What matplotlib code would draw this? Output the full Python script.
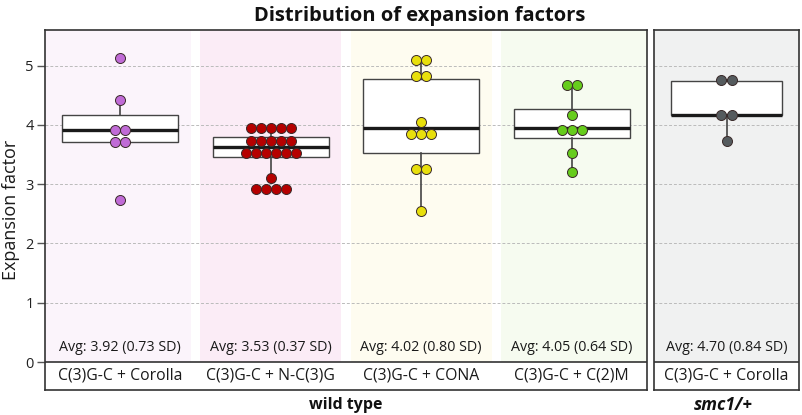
import matplotlib
matplotlib.use('Agg')
import matplotlib.pyplot as plt
import numpy as np

plt.rcParams['font.family'] = ['Open Sans', 'DejaVu Sans']

## ---------------------------- DATA ------------------------------------------
wt_labels = ['C(3)G-C + Corolla', 'C(3)G-C + N-C(3)G', 'C(3)G-C + CONA', 'C(3)G-C + C(2)M']
mut_labels = ['C(3)G-C + Corolla']

wt_values = [
    [5.13, 4.42, 3.92, 3.92, 3.71, 3.71, 2.73],
    [3.94] * 5 + [3.72] * 5 + [3.53] * 6 + [3.11] + [2.91] * 4,
    [5.10, 5.10, 4.82, 4.82, 4.05, 3.84, 3.84, 3.84, 3.25, 3.25, 2.55],
    [4.67, 4.67, 4.17, 3.92, 3.92, 3.92, 3.52, 3.21],
]
mut_values = [[4.75, 4.75, 4.17, 4.17, 3.73]]

# box statistics: q1, median, q3, whisker low, whisker high
wt_q1 = [3.71, 3.45, 3.53, 3.77]
wt_med = [3.92, 3.63, 3.95, 3.95]
wt_q3 = [4.17, 3.79, 4.78, 4.27]
wt_wlo = [3.71, 3.11, 2.55, 3.21]
wt_whi = [4.42, 3.94, 5.10, 4.67]
mut_q1 = [4.17]
mut_med = [4.17]
mut_q3 = [4.74]
mut_wlo = [3.73]
mut_whi = [4.75]

wt_avg = ['Avg: 3.92 (0.73 SD)', 'Avg: 3.53 (0.37 SD)', 'Avg: 4.02 (0.80 SD)', 'Avg: 4.05 (0.64 SD)']
mut_avg = ['Avg: 4.70 (0.84 SD)']

wt_colors = ['#c06bd6', '#b50000', '#e8df0c', '#66cc1c']
wt_bg = ['#fbf4fb', '#fbecf6', '#fefcf0', '#f6fbf0']
mut_colors = ['#555b5e']
mut_bg = ['#f0f1f1']

## ---------------------------- HELPERS ---------------------------------------
frame_col = '#333333'
ytop = 5.6
ybot = -0.472


def swarm_x(vals, center, step):
    # tied values are put side by side, centred on the group
    vals = np.array(vals)
    out = np.zeros(len(vals))
    for v in np.unique(vals):
        idx = np.where(vals == v)[0]
        n = len(idx)
        for j, i in enumerate(idx):
            out[i] = center + (j - (n - 1) / 2) * step
    return out


def draw_panel(ax, labels, values, q1, med, q3, wlo, whi, avg, colors, bg, step):
    n = len(labels)
    ax.set_xlim(-0.5, n - 0.5)
    ax.set_ylim(ybot, ytop)
    for i in range(n):
        lo = i - 0.47 if i > 0 else -0.5
        hi = i + 0.47 if i < n - 1 else n - 0.5
        ax.fill_between([lo, hi], 0, ytop, color=bg[i], lw=0, zorder=0)
    for y in range(1, 6):
        ax.axhline(y, color='#bbbbbb', lw=0.7, ls=(0, (3, 2)), zorder=1)
    ax.axhline(0, color=frame_col, lw=1.2, zorder=3)

    stats = []
    for i in range(n):
        stats.append(dict(q1=q1[i], med=med[i], q3=q3[i], whislo=wlo[i], whishi=whi[i], fliers=[]))
    ax.bxp(stats, positions=range(n), widths=0.77, showcaps=False, showfliers=False,
           patch_artist=True,
           boxprops=dict(facecolor='white', edgecolor='#444444', lw=1.0),
           medianprops=dict(color='#1a1a1a', lw=2.4),
           whiskerprops=dict(color='#444444', lw=1.2),
           zorder=2)

    for i in range(n):
        xs = swarm_x(values[i], i, step)
        ax.scatter(xs, values[i], s=52, color=colors[i], edgecolors='#3a2a2a',
                   linewidths=0.7, zorder=4)
        ax.text(i, 0.24, avg[i], ha='center', va='center', fontsize=10.3, color='#1a1a1a')
        ax.text(i, -0.235, labels[i], ha='center', va='center', fontsize=11.3, color='#1a1a1a')

    for s in ax.spines.values():
        s.set_color(frame_col)
        s.set_linewidth(1.2)
    ax.set_xticks([])


## ---------------------------- PLOTTING --------------------------------------
fig = plt.figure(figsize=(8.02, 4.15), dpi=100)
ax1 = fig.add_axes([45 / 802, 25 / 415, 602 / 802, 360 / 415])
ax2 = fig.add_axes([654 / 802, 25 / 415, 145 / 802, 360 / 415])

draw_panel(ax1, wt_labels, wt_values, wt_q1, wt_med, wt_q3, wt_wlo, wt_whi,
           wt_avg, wt_colors, wt_bg, 0.066)
draw_panel(ax2, mut_labels, mut_values, mut_q1, mut_med, mut_q3, mut_wlo, mut_whi,
           mut_avg, mut_colors, mut_bg, 0.069)

ax1.set_yticks(range(6))
ax1.tick_params(axis='y', direction='out', length=6, width=1, color='#555555',
                labelsize=10.5, labelcolor='#222222', pad=2)
ax1.set_ylabel('Expansion factor', fontsize=13, color='#1a1a1a', labelpad=4)
ax2.set_yticks([])

fig.text(420 / 802, 1 - 16 / 415, 'Distribution of expansion factors', ha='center', va='center',
         fontsize=14.5, fontweight='bold', color='#111111')
fig.text(346 / 802, 1 - 405 / 415, 'wild type', ha='center', va='center',
         fontsize=11.5, fontweight='bold', color='#111111')
fig.text(723 / 802, 1 - 405 / 415, 'smc1/+', ha='center', va='center',
         fontsize=12.5, fontweight='bold', fontstyle='italic', color='#111111')

fig.savefig('out.png', dpi=100)
